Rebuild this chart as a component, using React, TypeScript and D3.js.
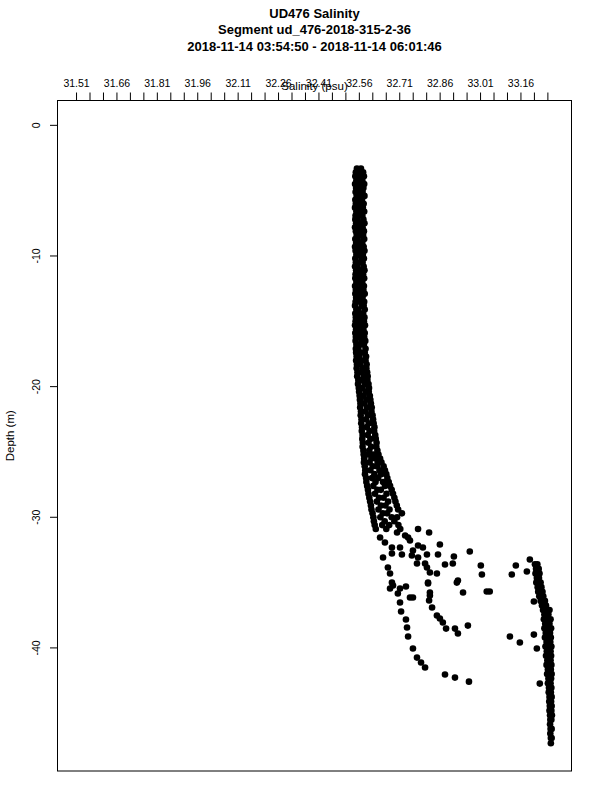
import React from "react";
import * as d3 from "d3";

// Titles / labels
const titleLines = [
  "UD476 Salinity",
  "Segment ud_476-2018-315-2-36",
  "2018-11-14 03:54:50 - 2018-11-14 06:01:46",
];
const xTitle = "Salinity (psu)";
const yTitle = "Depth (m)";

// extent of the segment data (the axes are padded 4% like R does)
const salinityExtent = [31.51, 33.277];
const depthExtent = [-47.52, 0];

// top axis: labelled every 0.15, minor marks every 0.05
const salinityLabels = ["31.51", "31.66", "31.81", "31.96", "32.11", "32.26", "32.41", "32.56", "32.71", "32.86", "33.01", "33.16"];
const salinityStep = 0.05;
const depthTicks = [0, -10, -20, -30, -40];

// upper layer, rows of [depth, salinity, salinity, ...]
const upperRows = [
  [-3.3, 32.551, 32.566],
  [-3.6, 32.547, 32.559, 32.574],
  [-3.9, 32.545, 32.563, 32.577],
  [-4.2, 32.549, 32.556, 32.571],
  [-4.5, 32.544, 32.561, 32.578],
  [-4.8, 32.548, 32.568, 32.575],
  [-5.1, 32.546, 32.553, 32.572],
  [-5.4, 32.550, 32.565, 32.579],
  [-5.7, 32.545, 32.558, 32.570],
  [-6.0, 32.547, 32.562, 32.576],
  [-6.3, 32.544, 32.555, 32.573],
  [-6.6, 32.549, 32.567, 32.578],
  [-6.9, 32.546, 32.560, 32.571],
  [-7.2, 32.545, 32.552, 32.575],
  [-7.5, 32.548, 32.564, 32.579],
  [-7.8, 32.544, 32.557, 32.572],
  [-8.1, 32.547, 32.569, 32.577],
  [-8.4, 32.550, 32.561, 32.574],
  [-8.7, 32.545, 32.554, 32.578],
  [-9.0, 32.548, 32.566, 32.571],
  [-9.3, 32.544, 32.559, 32.576],
  [-9.6, 32.546, 32.563, 32.579],
  [-9.9, 32.549, 32.556, 32.573],
  [-10.2, 32.545, 32.568, 32.577],
  [-10.5, 32.547, 32.560, 32.572],
  [-10.8, 32.544, 32.553, 32.576],
  [-11.1, 32.548, 32.565, 32.579],
  [-11.4, 32.546, 32.558, 32.574],
  [-11.7, 32.545, 32.562, 32.578],
  [-12.0, 32.549, 32.555, 32.571],
  [-12.3, 32.544, 32.567, 32.577],
  [-12.6, 32.547, 32.559, 32.575],
  [-12.9, 32.545, 32.564, 32.580],
  [-13.2, 32.548, 32.557, 32.572],
  [-13.5, 32.546, 32.561, 32.578],
  [-13.8, 32.544, 32.569, 32.576],
  [-14.1, 32.549, 32.556, 32.580],
  [-14.4, 32.545, 32.563, 32.574],
  [-14.7, 32.547, 32.558, 32.579],
  [-15.0, 32.546, 32.566, 32.577],
  [-15.3, 32.544, 32.560, 32.581],
  [-15.6, 32.548, 32.554, 32.575],
  [-15.9, 32.545, 32.565, 32.580],
  [-16.2, 32.547, 32.559, 32.578],
  [-16.5, 32.546, 32.568, 32.582],
  [-16.8, 32.549, 32.562, 32.577],
  [-17.1, 32.547, 32.556, 32.583],
  [-17.4, 32.548, 32.566, 32.580],
  [-17.7, 32.550, 32.560, 32.585],
  [-18.0, 32.548, 32.570, 32.583],
  [-18.3, 32.551, 32.563, 32.587],
  [-18.6, 32.550, 32.574, 32.586],
  [-18.9, 32.553, 32.566, 32.589],
  [-19.2, 32.552, 32.577, 32.591],
  [-19.5, 32.556, 32.569, 32.590],
  [-19.8, 32.555, 32.580, 32.594],
  [-20.1, 32.558, 32.572, 32.596],
  [-20.4, 32.559, 32.583, 32.595],
  [-20.7, 32.561, 32.576, 32.599],
  [-21.0, 32.562, 32.586, 32.601],
  [-21.3, 32.564, 32.579, 32.603],
  [-21.6, 32.563, 32.589, 32.606],
  [-21.9, 32.566, 32.582, 32.605],
  [-22.2, 32.565, 32.592, 32.609],
  [-22.5, 32.568, 32.585, 32.611],
  [-22.8, 32.567, 32.595, 32.613],
  [-23.1, 32.570, 32.588, 32.616],
  [-23.4, 32.569, 32.598, 32.615],
  [-23.7, 32.572, 32.591, 32.619],
  [-24.0, 32.571, 32.601, 32.621],
  [-24.3, 32.573, 32.594, 32.624],
  [-24.6, 32.572, 32.604, 32.623],
  [-24.9, 32.575, 32.597, 32.627],
];

// halocline, the band widens
const haloRows = [
  [-25.2, 32.576, 32.593, 32.612, 32.631],
  [-25.5, 32.578, 32.605, 32.621, 32.637],
  [-25.8, 32.577, 32.598, 32.628, 32.642],
  [-26.1, 32.580, 32.610, 32.625, 32.650],
  [-26.4, 32.582, 32.601, 32.635, 32.655],
  [-26.7, 32.581, 32.616, 32.641, 32.660],
  [-27.0, 32.585, 32.607, 32.630, 32.664],
  [-27.3, 32.586, 32.620, 32.648, 32.669],
  [-27.6, 32.589, 32.612, 32.655, 32.674],
  [-27.9, 32.592, 32.627, 32.640, 32.680],
  [-28.2, 32.594, 32.618, 32.661, 32.685],
  [-28.5, 32.597, 32.633, 32.650, 32.690],
  [-28.8, 32.600, 32.625, 32.667, 32.694],
  [-29.1, 32.603, 32.640, 32.657, 32.699],
  [-29.4, 32.605, 32.631, 32.672, 32.704],
  [-29.7, 32.609, 32.647, 32.663, 32.718],
  [-30.0, 32.612, 32.638, 32.680, 32.700],
  [-30.3, 32.614, 32.654, 32.690],
  [-30.6, 32.617, 32.645, 32.671, 32.705],
  [-30.9, 32.621, 32.660, 32.712, 32.778],
];

// scattered samples below the halocline [salinity, depth]
const scatterPts = [
  [32.819, -31.16], [32.637, -31.55], [32.655, -31.93], [32.681, -32.31],
  [32.711, -32.31], [32.741, -31.55], [32.748, -31.78], [32.700, -31.16],
  [32.730, -31.40], [32.759, -32.54], [32.778, -32.16], [32.796, -32.31],
  [32.859, -32.08], [32.648, -33.08], [32.681, -32.77], [32.718, -32.85],
  [32.755, -32.93], [32.778, -33.08], [32.811, -32.85], [32.852, -32.85],
  [32.666, -33.85], [32.674, -34.30], [32.774, -33.54], [32.804, -33.54],
  [32.811, -33.85], [32.822, -34.23], [32.848, -34.30], [32.878, -33.62],
  [32.907, -33.54], [32.911, -33.00], [32.970, -32.62], [33.011, -33.69],
  [33.015, -34.38], [32.681, -35.00], [32.685, -35.22], [32.711, -35.45],
  [32.748, -36.14], [32.759, -36.14], [32.815, -35.00], [32.822, -35.76],
  [32.922, -35.00], [32.926, -34.84], [32.945, -35.76], [33.033, -35.68],
  [33.044, -35.68], [32.703, -35.84], [32.733, -35.30], [32.674, -35.45],
  [32.711, -36.52], [32.715, -37.21], [32.733, -37.83], [32.737, -38.44],
  [32.741, -39.13], [32.759, -40.05], [32.774, -40.74], [32.789, -41.12],
  [32.804, -41.50], [32.815, -35.07], [32.822, -35.99], [32.819, -36.37],
  [32.830, -36.91], [32.848, -37.52], [32.859, -37.75], [32.870, -38.06],
  [32.882, -38.52], [32.915, -38.52], [32.926, -38.90], [32.963, -38.29],
  [32.878, -42.04], [32.915, -42.27], [32.967, -42.58],
  [33.141, -33.69], [33.193, -33.23], [33.126, -34.38], [33.182, -34.15],
  [33.119, -39.13], [33.156, -39.59], [33.208, -38.98], [33.208, -36.45],
  [33.219, -40.05], [33.230, -42.73],
];

// bottom layer, rows of [depth, salinity, ...]
const deepRows = [
  [-33.6, 33.212, 33.221], [-33.95, 33.216, 33.226], [-34.3, 33.214, 33.223, 33.229],
  [-34.65, 33.219, 33.227], [-35.0, 33.217, 33.225, 33.233], [-35.35, 33.222, 33.236],
  [-35.7, 33.224, 33.231, 33.240], [-36.05, 33.228, 33.243], [-36.4, 33.233, 33.240, 33.249],
  [-36.75, 33.238, 33.253], [-37.1, 33.242, 33.256, 33.266], [-37.45, 33.247, 33.262],
  [-37.8, 33.245, 33.258, 33.270], [-38.15, 33.250, 33.266], [-38.5, 33.247, 33.260, 33.272],
  [-38.85, 33.252, 33.268], [-39.2, 33.249, 33.263, 33.271], [-39.55, 33.255, 33.269],
  [-39.9, 33.251, 33.262, 33.273], [-40.25, 33.256, 33.270], [-40.6, 33.253, 33.264, 33.272],
  [-40.95, 33.258, 33.270], [-41.3, 33.255, 33.266, 33.273], [-41.65, 33.260, 33.271],
  [-42.0, 33.257, 33.268, 33.274], [-42.35, 33.262, 33.272], [-42.7, 33.260, 33.270],
  [-43.05, 33.264, 33.273], [-43.4, 33.263, 33.271], [-43.75, 33.266, 33.274],
  [-44.1, 33.265, 33.272], [-44.45, 33.267, 33.274], [-44.8, 33.266, 33.273],
  [-45.15, 33.268, 33.275], [-45.5, 33.269, 33.273], [-45.85, 33.268],
  [-46.2, 33.270, 33.274], [-46.55, 33.269], [-46.9, 33.271, 33.274],
  [-47.3, 33.271],
];

// rows -> [salinity, depth] pairs
function fromRows(rows: number[][]) {
  const out: number[][] = [];
  rows.forEach((r) => r.slice(1).forEach((s) => out.push([s, r[0]])));
  return out;
}

const font = "'Liberation Sans', Arial, Helvetica, sans-serif";

export default function App() {
  const width = 600, height = 800;
  const margin = { top: 100.5, right: 28.5, bottom: 29, left: 57.5 };
  const x0 = margin.left, x1 = width - margin.right;
  const y0 = margin.top, y1 = height - margin.bottom;

  // R-style 4% padding
  const padX = (salinityExtent[1] - salinityExtent[0]) * 0.04;
  const padY = (depthExtent[1] - depthExtent[0]) * 0.04;
  const x = d3.scaleLinear()
    .domain([salinityExtent[0] - padX, salinityExtent[1] + padX])
    .range([x0, x1]);
  const y = d3.scaleLinear()
    .domain([depthExtent[0] - padY, depthExtent[1] + padY])
    .range([y1, y0]);

  const minorTicks = d3.range(salinityExtent[0], salinityExtent[1] + 1e-9, salinityStep);

  const points = [
    ...fromRows(upperRows),
    ...fromRows(haloRows),
    ...scatterPts,
    ...fromRows(deepRows),
  ];

  const cx = (x0 + x1) / 2;
  const cy = (y0 + y1) / 2;

  return (
    <svg width={width} height={height} style={{ position: "absolute", left: 0, top: 0, background: "#fff" }}
      fontFamily={font}>
      <rect x={0} y={0} width={width} height={height} fill="#fff" />
      {titleLines.map((t, i) => (
        <text key={t} x={cx} y={17.5 + i * 16.5} textAnchor="middle" fontWeight="bold" fontSize={13}>{t}</text>
      ))}

      {/* top axis */}
      {minorTicks.map((v, i) => (
        <line key={"t" + i} x1={x(v)} x2={x(v)} y1={y0} y2={y0 - 8} stroke="#000" />
      ))}
      {salinityLabels.map((l) => (
        <text key={l} x={x(+l)} y={87} textAnchor="middle" fontSize={10.5}>{l}</text>
      ))}
      <text x={cx} y={89.5} textAnchor="middle" fontSize={11.5}>{xTitle}</text>

      {/* left axis */}
      {depthTicks.map((v) => (
        <g key={"d" + v}>
          <line x1={x0} x2={x0 - 7.5} y1={y(v)} y2={y(v)} stroke="#000" />
          <text transform={`translate(39.5,${y(v)}) rotate(-90)`} textAnchor="middle" fontSize={10.5}>{v}</text>
        </g>
      ))}
      <text transform={`translate(14,${cy}) rotate(-90)`} textAnchor="middle" fontSize={11.5}>{yTitle}</text>

      {/* samples */}
      {points.map((p, i) => (
        <circle key={i} cx={x(p[0])} cy={y(p[1])} r={3.3} fill="#000" />
      ))}

      <rect x={x0} y={y0} width={x1 - x0} height={y1 - y0} fill="none" stroke="#000" />
    </svg>
  );
}
